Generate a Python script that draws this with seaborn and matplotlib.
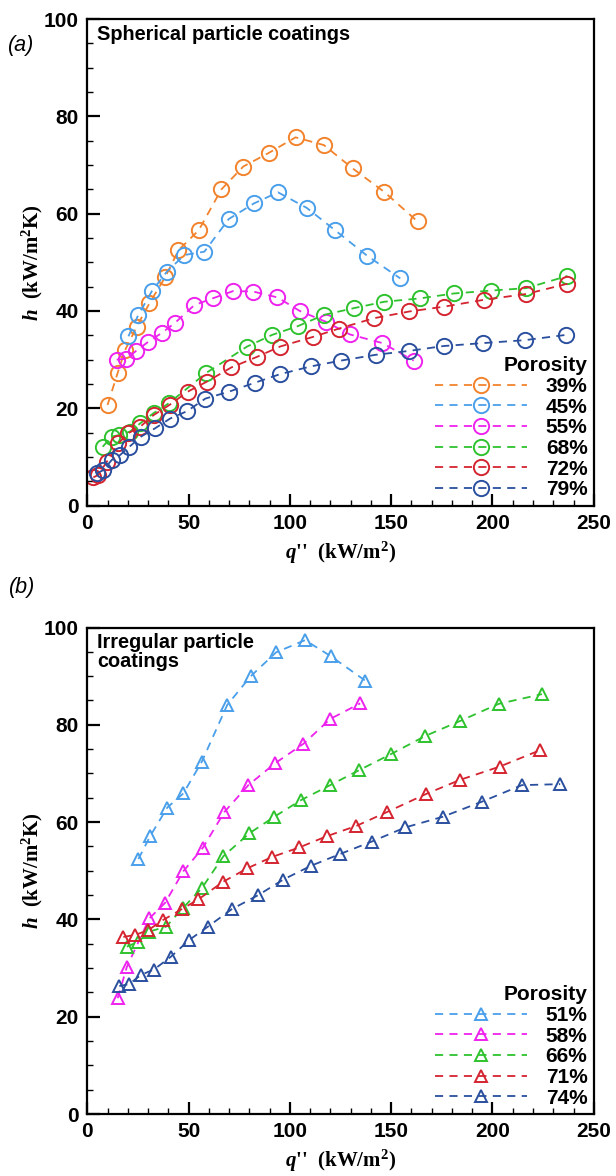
import numpy as np
import pandas as pd
import matplotlib
matplotlib.use("Agg")
import matplotlib.pyplot as plt
from matplotlib.ticker import MultipleLocator
import seaborn as sns

# ---------------- data: panel (a) spherical particle coatings ----------------
a_labels = ["39%", "45%", "55%", "68%", "72%", "79%"]
a39_x = [10, 15, 18.7, 24.4, 30.7, 38.5, 45, 55, 66.2, 77, 89.6, 102.8, 116.8, 131, 146.5, 163]
a39_y = [20.7, 27.3, 32, 36.8, 41.6, 47, 52.5, 56.6, 65, 69.7, 72.5, 75.7, 74.1, 69.3, 64.5, 58.4]
a45_x = [20.3, 25.2, 31.9, 39.3, 47.9, 57.8, 69.8, 82.2, 94.1, 108.3, 122.3, 138.3, 154.5]
a45_y = [34.8, 39.2, 44.1, 48.1, 51.5, 52.2, 58.9, 62.1, 64.4, 61.2, 56.6, 51.3, 46.7]
a55_x = [14.5, 19.3, 24.1, 30.2, 36.8, 43.4, 52.8, 61.9, 72, 81.9, 93.8, 104.9, 117.7, 129.5, 145.7, 161.1]
a55_y = [30, 30.2, 31.8, 33.7, 35.5, 37.6, 41.2, 42.6, 44.1, 44.0, 42.8, 40.0, 37.8, 35.2, 33.4, 29.8]
a68_x = [7.6, 12.1, 15.8, 21, 26.1, 32.7, 40.1, 58.8, 78.9, 91.3, 104, 116.8, 131.7, 146.5, 164.4, 180.9, 199.4, 216.7, 237]
a68_y = [12.1, 14.2, 14.5, 15.2, 16.9, 19, 21, 27.3, 32.7, 35.1, 36.9, 39.2, 40.6, 41.9, 42.6, 43.6, 44.2, 44.7, 47.2]
a72_x = [3, 5.4, 9.6, 15.3, 20.3, 26.1, 32.7, 40.6, 49.5, 59.1, 71.1, 83.9, 95.2, 111.6, 124.3, 141.3, 158.9, 176.2, 195.7, 216.7, 237]
a72_y = [5.8, 6.3, 9.0, 12.8, 14.9, 16.2, 18.6, 20.7, 23.4, 25.5, 28.4, 30.6, 32.7, 34.7, 36.4, 38.5, 39.9, 40.9, 42.3, 43.5, 45.6]
a79_x = [4.6, 7.9, 12.1, 16.2, 20.8, 26.6, 33.5, 40.9, 49.2, 58.3, 69.8, 83, 95, 110.2, 125.1, 142.4, 158.9, 175.9, 195.2, 215.8, 236.5]
a79_y = [6.6, 7.3, 9.4, 10.4, 12.1, 14.2, 15.9, 17.9, 19.4, 22.0, 23.4, 25.3, 27, 28.6, 29.8, 31, 31.8, 32.8, 33.4, 34.0, 35.1]

# ---------------- data: panel (b) irregular particle coatings ----------------
b_labels = ["51%", "58%", "66%", "71%", "74%"]
b51_x = [25.2, 31, 39.5, 47.4, 56.5, 69.1, 80.7, 93.2, 107.5, 120.2, 137.1]
b51_y = [52.4, 57.1, 63.0, 65.9, 72.4, 84.1, 90.0, 94.9, 97.4, 94.1, 89.1]
b58_x = [15, 19.5, 30.6, 38.4, 47.4, 57, 67.7, 79.5, 92.7, 106.7, 119.9, 134.7]
b58_y = [23.8, 30.2, 40.2, 43.4, 49.9, 54.7, 62.1, 67.6, 72.1, 76.1, 81.2, 84.4]
b66_x = [19.5, 25.2, 30.6, 38.9, 47.1, 56.5, 67.2, 80, 92.3, 105.4, 119.9, 134.3, 150, 166.8, 184.1, 203, 224.4]
b66_y = [34.4, 35.4, 37.5, 38.5, 42.3, 46.4, 53.0, 57.7, 61.1, 64.5, 67.6, 70.7, 74.0, 77.7, 80.8, 84.3, 86.3]
b71_x = [17.8, 23.6, 30.1, 37.5, 46.6, 54.8, 66.9, 79, 91, 104.7, 118.2, 132.7, 148.1, 167.3, 184.1, 203.5, 223.6]
b71_y = [36.4, 36.8, 37.8, 39.9, 42.1, 44.1, 47.7, 50.5, 52.8, 54.8, 57.1, 59.2, 62.1, 65.8, 68.7, 71.4, 74.8]
b74_x = [15.8, 20.7, 26.5, 32.9, 41.2, 50.4, 59.5, 71.3, 84.4, 96.8, 110.3, 124.5, 140.4, 156.9, 175.5, 194.8, 214.5, 233.4]
b74_y = [26.3, 26.7, 28.6, 29.7, 32.3, 35.8, 38.5, 42.1, 45.0, 48.2, 51.0, 53.4, 56.0, 58.9, 61.1, 64.2, 67.6, 67.8]

a_series = [(a39_x, a39_y), (a45_x, a45_y), (a55_x, a55_y), (a68_x, a68_y), (a72_x, a72_y), (a79_x, a79_y)]
b_series = [(b51_x, b51_y), (b58_x, b58_y), (b66_x, b66_y), (b71_x, b71_y), (b74_x, b74_y)]

a_colors = ["#F2832C", "#4A9FEA", "#EE22EE", "#2EC22E", "#D42430", "#2A4F9E"]
b_colors = ["#4A9FEA", "#EE22EE", "#2EC22E", "#D42430", "#2A4F9E"]

# ---------------- style ----------------
sns.set_theme(style="ticks")
plt.rcParams["font.family"] = ["Liberation Sans", "DejaVu Sans"]
plt.rcParams["mathtext.fontset"] = "custom"
plt.rcParams["mathtext.rm"] = "Liberation Serif:bold"
plt.rcParams["mathtext.it"] = "Liberation Serif:bold:italic"
plt.rcParams["mathtext.bf"] = "Liberation Serif:bold"
for key in ["text.color", "axes.labelcolor", "xtick.color", "ytick.color", "axes.edgecolor"]:
    plt.rcParams[key] = "black"

fig = plt.figure(figsize=(6.16, 11.76), dpi=100)
W, H = 616.0, 1176.0
ax_a = fig.add_axes([87.3 / W, 1 - 505.6 / H, 506.5 / W, 486.5 / H])
ax_b = fig.add_axes([87.3 / W, 1 - 1114.0 / H, 506.5 / W, 486.5 / H])


def draw(ax, series, labels, colors, marker, ms):
    for (xs, ys), lab, col in zip(series, labels, colors):
        df = pd.DataFrame({"q": xs, "h": ys})
        sns.lineplot(data=df, x="q", y="h", ax=ax, sort=False, estimator=None,
                     color=col, linestyle=(0, (4.5, 3.5)), linewidth=1.3,
                     marker=marker, markersize=ms, markerfacecolor="none",
                     markeredgecolor=col, markeredgewidth=1.4, label=lab)
    ax.set_xlim(0, 250)
    ax.set_ylim(0, 100)
    ax.xaxis.set_major_locator(MultipleLocator(50))
    ax.xaxis.set_minor_locator(MultipleLocator(10))
    ax.yaxis.set_major_locator(MultipleLocator(20))
    ax.yaxis.set_minor_locator(MultipleLocator(5))
    ax.tick_params(which="both", direction="in", top=False, right=False, colors="black")
    ax.tick_params(which="major", length=9, width=1.6, labelsize=15, pad=6)
    ax.tick_params(which="minor", length=4, width=1.0)
    for lbl in ax.get_xticklabels() + ax.get_yticklabels():
        lbl.set_fontweight("bold")
    for sp in ax.spines.values():
        sp.set_linewidth(1.6)
        sp.set_color("black")
    ax.set_xlabel(r"$q$''  (kW/m$^2$)", fontsize=15, labelpad=5,
                  fontfamily="Liberation Serif", fontweight="bold")
    ax.set_ylabel(r"$h$  (kW/m$^2$K)", fontsize=15, labelpad=-1,
                  fontfamily="Liberation Serif", fontweight="bold")
    handles, labs = ax.get_legend_handles_labels()
    leg = ax.legend(handles, labs, loc="lower right", frameon=False,
                    title="Porosity", alignment="right",
                    prop={"size": 15, "weight": "bold"},
                    title_fontproperties={"size": 15, "weight": "bold"},
                    handlelength=4.4, handletextpad=0.9, labelspacing=0.08,
                    borderaxespad=0.2, borderpad=0.1, markerfirst=True)
    for t in leg.get_texts():
        t.set_color("black")
    leg.get_title().set_color("black")
    return leg


draw(ax_a, a_series, a_labels, a_colors, "o", 11)
draw(ax_b, b_series, b_labels, b_colors, "^", 9)

ax_a.text(0.02, 0.988, "Spherical particle coatings", transform=ax_a.transAxes,
          ha="left", va="top", fontsize=14.3, fontweight="bold", color="black")
ax_b.text(0.02, 0.988, "Irregular particle\ncoatings", transform=ax_b.transAxes,
          ha="left", va="top", fontsize=14.3, fontweight="bold", linespacing=0.95,
          color="black")

fig.text(21 / W, 1 - 45 / H, "(a)", ha="center", va="center", fontsize=15.5,
         fontstyle="italic", color="black")
fig.text(22 / W, 1 - 588 / H, "(b)", ha="center", va="center", fontsize=15.5,
         fontstyle="italic", color="black")

fig.savefig("out.png", dpi=100)
